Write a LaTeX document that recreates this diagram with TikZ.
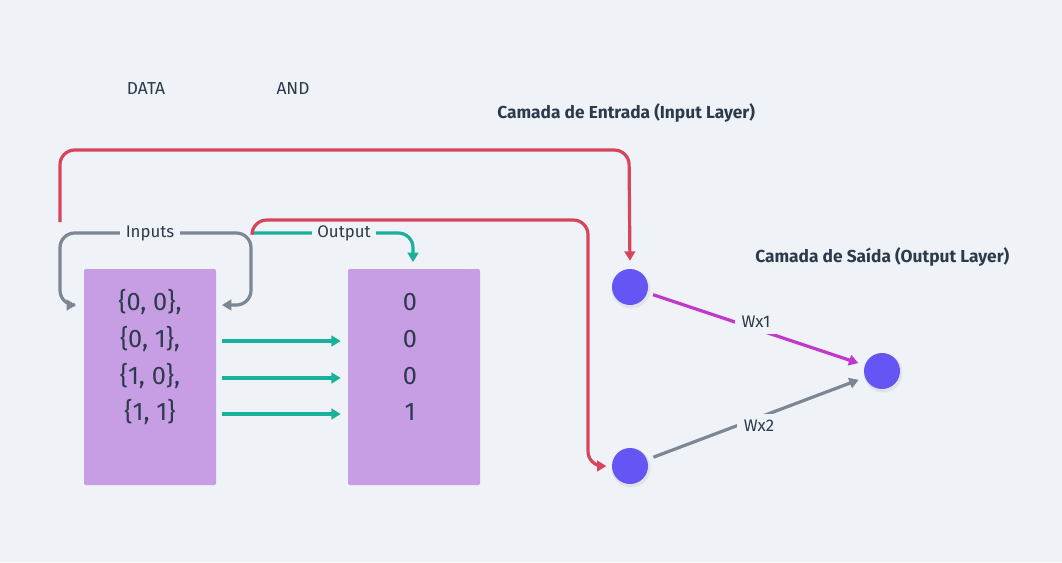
\documentclass[tikz,border=0pt]{standalone}
\usepackage{fontspec}
\setmainfont{Fira Sans}
\usetikzlibrary{arrows.meta,calc}
\definecolor{bgc}{RGB}{239,243,247}
\definecolor{boxc}{RGB}{199,158,228}
\definecolor{txt}{RGB}{44,58,75}
\definecolor{redc}{RGB}{214,69,92}
\definecolor{tealc}{RGB}{27,176,155}
\definecolor{grayc}{RGB}{123,135,148}
\definecolor{magc}{RGB}{192,56,204}
\definecolor{nodec}{RGB}{101,85,245}
\tikzset{
  con/.style={line width=2.4pt, rounded corners=11pt, -{Triangle[length=7pt,width=8pt]}},
  databox/.style={fill=boxc, minimum width=99pt, minimum height=162pt, inner sep=0pt, rounded corners=1pt},
  cell/.style={text=txt, font=\fontsize{19}{22}\selectfont, inner sep=0pt},
  lbl/.style={text=txt, font=\fontsize{12.6}{14}\selectfont, fill=bgc, inner xsep=4pt, inner ysep=1.5pt},
  plain/.style={text=txt, font=\fontsize{13}{15}\selectfont, inner sep=0pt},
  title/.style={text=txt, font=\bfseries\fontsize{13}{15}\selectfont, inner sep=0pt, anchor=west},
  neuron/.style={circle, fill=nodec, minimum size=27pt, inner sep=0pt},
}
\begin{document}
\begin{tikzpicture}[x=0.75pt,y=-0.75pt]
\fill[bgc] (0,0) rectangle (1062,562);
\useasboundingbox (0,0) rectangle (1062,562);

% header texts
\node[plain] (data) at (146,89) {DATA};
\node[plain] (and) at (293,89) {AND};
\node[title] (tin) at (497,113) {Camada de Entrada (Input Layer)};
\node[title] (tout) at (755,257) {Camada de Saída (Output Layer)};

% boxes
\node[databox] (inbox) at (150,377) {};
\node[databox] (outbox) at (414,377) {};
\node[cell] (a1) at (150,302) {\{0, 0\},};
\node[cell] (a2) at (150,339) {\{0, 1\},};
\node[cell] (a3) at (150,376) {\{1, 0\},};
\node[cell] (a4) at (150,412) {\{1, 1\}};
\node[cell] (b1) at (410,302) {0};
\node[cell] (b2) at (410,339) {0};
\node[cell] (b3) at (410,376) {0};
\node[cell] (b4) at (410,412) {1};

% neurons
\fill[black, opacity=0.06] (631,289) circle (19.5);
\fill[black, opacity=0.06] (631,468) circle (19.5);
\fill[black, opacity=0.06] (883,373) circle (19.5);
\node[neuron] (n1) at (630,287) {};
\node[neuron] (n2) at (630,466) {};
\node[neuron] (n3) at (882,371) {};

% free ends
\coordinate (redA) at (60,222);
\coordinate (split) at (252,233);
\coordinate (inL) at (76,305);
\coordinate (inR) at (222,305);

% gray inputs loop
\draw[con, grayc, {Triangle[length=7pt,width=8pt]}-{Triangle[length=7pt,width=8pt]}] (inL) -- (60,305) -- (60,233) -- (251,233) -- (251,305) -- (inR);
\node[lbl] (linputs) at (150,233) {Inputs};

% teal output
\draw[con, tealc, shorten >=5pt] (split) -- (413,233) -- (outbox.north -| 413,0);
\node[lbl] (loutput) at (344,233) {Output};

% red connectors
\draw[con, redc, shorten >=6pt] (redA) -- (60,150) -- (629,150) -- (n1.north);
\draw[con, redc, shorten >=4pt] (split) -- (252,220) -- (588,220) -- (588,466) -- (n2.west);

% teal row arrows
\foreach \r in {2,3,4}{
  \draw[con, tealc] ($(inbox.east |- a\r)+(6,2)$) -- ($(outbox.west |- a\r)+(-7,2)$);
}

% weights
\draw[con, magc, shorten <=4.5pt, shorten >=5pt] (n1) -- (n3);
\draw[con, grayc, shorten <=5pt, shorten >=5pt] (n2) -- (n3);
\node[lbl, inner sep=5pt] (w1) at (756,322) {Wx1};
\node[lbl, inner sep=5pt] (w2) at (759,426) {Wx2};
\end{tikzpicture}
\end{document}
